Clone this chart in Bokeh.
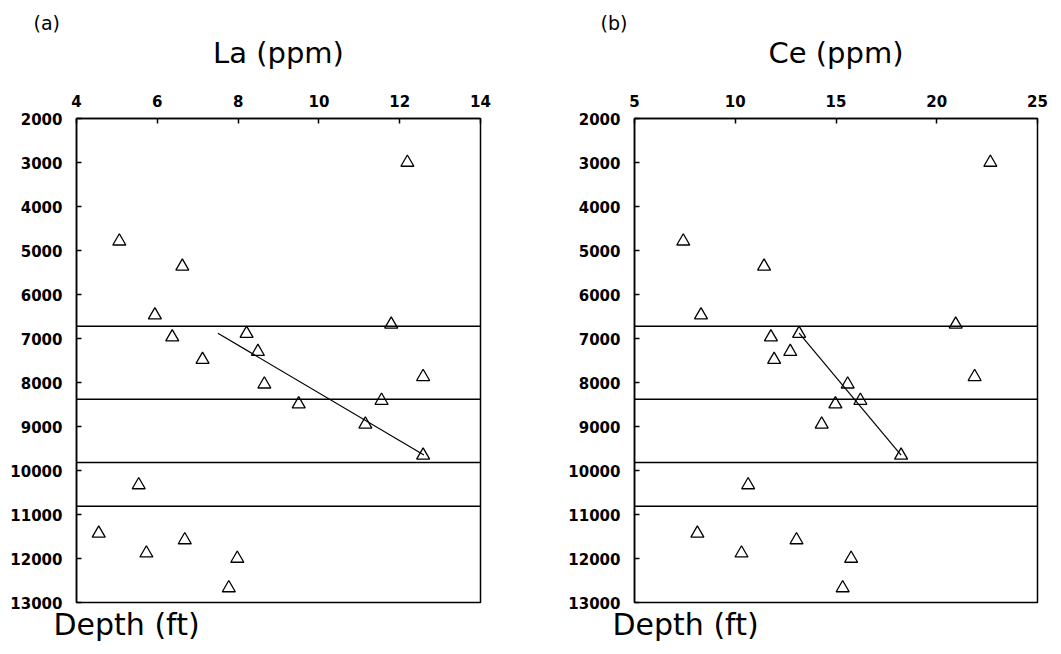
from bokeh.plotting import figure
from bokeh.layouts import row
from bokeh.models import Range1d, Span, Title, FixedTicker
from bokeh.embed import file_html
from bokeh.resources import INLINE

# Sample depths (ft), shared by both panels
depth = [3000, 4790, 5360, 6470, 6680, 6890, 6970, 7300, 7480, 7870,
         8040, 8410, 8490, 8950, 9655, 10330, 11430, 11580, 11880, 12000, 12670]
# Lanthanum concentration (ppm)
la = [12.19, 5.06, 6.62, 5.94, 11.79, 8.21, 6.37, 8.49, 7.12, 12.58,
      8.65, 11.55, 9.50, 11.15, 12.58, 5.54, 4.55, 6.68, 5.73, 7.98, 7.77]
# Cerium concentration (ppm)
ce = [22.66, 7.42, 11.43, 8.30, 20.94, 13.17, 11.77, 12.73, 11.93, 21.88,
      15.58, 16.21, 14.97, 14.29, 18.23, 10.64, 8.12, 13.04, 10.31, 15.75, 15.33]

# Zone boundaries (ft)
boundaries = [6720, 8380, 9820, 10810]

# Trend lines through the middle zone
trend_depth = [6880, 9650]
trend_la = [7.5, 12.6]
trend_ce = [13.17, 18.23]

la_ticks = [4, 6, 8, 10, 12, 14]
ce_ticks = [5, 10, 15, 20, 25]
depth_ticks = [2000, 3000, 4000, 5000, 6000, 7000, 8000, 9000, 10000, 11000, 12000, 13000]

FONT = "DejaVu Sans"


def panel(xvals, xticks, trend_x, title, tag, width, borders, tag_offset, depth_offset):
    left, right, top, bottom = borders
    p = figure(width=width, height=654, output_backend="svg", toolbar_location=None,
               x_range=Range1d(xticks[0], xticks[-1]),
               y_range=Range1d(depth_ticks[-1], depth_ticks[0]),
               x_axis_location="above",
               min_border_left=left, min_border_right=right,
               min_border_top=top, min_border_bottom=bottom)
    p.grid.visible = False
    p.outline_line_color = "black"
    p.outline_line_width = 1.5
    p.background_fill_color = "white"
    p.border_fill_color = "white"

    for ax, ticks, standoff in ((p.xaxis[0], xticks, 12), (p.yaxis[0], depth_ticks, 14)):
        ax.ticker = FixedTicker(ticks=ticks)
        ax.major_tick_in = 5
        ax.major_tick_out = 0
        ax.minor_tick_line_color = None
        ax.axis_line_width = 1.5
        ax.major_tick_line_width = 1.5
        ax.major_label_text_font = FONT
        ax.major_label_text_font_style = "bold"
        ax.major_label_text_font_size = "15px"
        ax.major_label_text_color = "black"
        ax.major_label_standoff = standoff

    for b in boundaries:
        p.add_layout(Span(location=b, dimension="width", line_color="black", line_width=1.5))

    p.line(trend_x, trend_depth, line_color="black", line_width=1.2)
    p.scatter(xvals, depth, marker="triangle", size=13, fill_color=None,
              line_color="black", line_width=1.3)

    p.add_layout(Title(text=title, align="center", text_font=FONT, text_font_size="29px",
                       text_font_style="normal", text_color="black", standoff=44), "above")
    p.add_layout(Title(text=tag, align="left", offset=tag_offset, text_font=FONT,
                       text_font_size="19px", text_font_style="normal",
                       text_color="black", standoff=-44), "above")
    p.add_layout(Title(text="Depth (ft)", align="left", offset=depth_offset, text_font=FONT,
                       text_font_size="30px", text_font_style="normal",
                       text_color="black", standoff=4), "below")
    return p


pa = panel(la, la_ticks, trend_la, "La (ppm)", "(a)", 530, (76, 50, 115, 52), -43, -23)
pb = panel(ce, ce_ticks, trend_ce, "Ce (ppm)", "(b)", 531, (104, 24, 118, 48), -34, -22)

layout = row(pa, pb)
open("out.html", "w").write(file_html(layout, INLINE))
